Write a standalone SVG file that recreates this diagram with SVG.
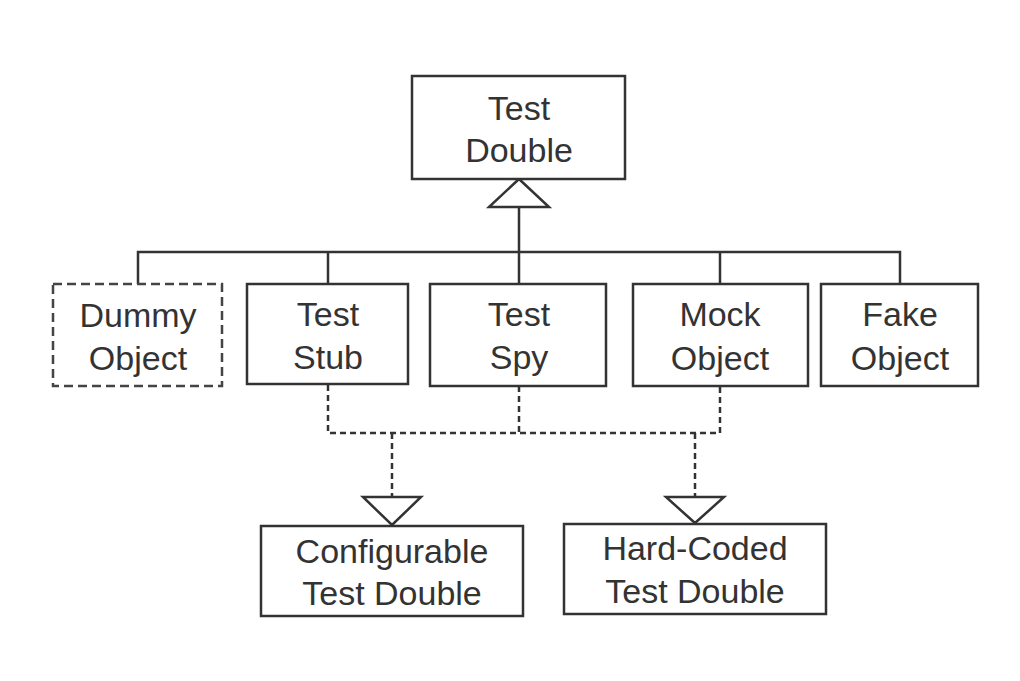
<svg xmlns="http://www.w3.org/2000/svg" width="1020" height="681" viewBox="0 0 1020 681">
<style>
.box{fill:#fff;stroke:#333;stroke-width:2.5}
.dbox{fill:#fff;stroke:#444;stroke-width:2.5;stroke-dasharray:9 5}
.ln{fill:none;stroke:#333;stroke-width:2.5}
.dl{fill:none;stroke:#333;stroke-width:2.5;stroke-dasharray:6 4}
.tri{fill:#fff;stroke:#333;stroke-width:2.5;stroke-linejoin:miter}
text{font-family:"Liberation Sans",Arial,sans-serif;font-size:34px;fill:#333;text-anchor:middle}
</style>
<rect width="1020" height="681" fill="#fff"/>
<g id="connectors">
<path class="ln" d="M519 206 V252 M138 284 V252 H900 V284 M328 252 V284 M519 252 V284 M720 252 V284"/>
<polygon class="tri" points="519,179 549,207 489,207"/>
<path class="dl" d="M328 385 V433 H720 V386 M519 386 V433 M392 433 V497 M695 433 V497"/>
<polygon class="tri" points="363,497 421,497 392,525"/>
<polygon class="tri" points="666,497 724,497 695,523"/>
</g>
<g id="test-double">
<rect class="box" x="412" y="76" width="213" height="103"/>
<text x="519" y="120">Test</text>
<text x="519" y="162">Double</text>
</g>
<g id="dummy-object">
<rect class="dbox" x="53" y="284" width="169" height="102"/>
<text x="138" y="327">Dummy</text>
<text x="138" y="370">Object</text>
</g>
<g id="test-stub">
<rect class="box" x="247" y="284" width="161" height="100"/>
<text x="328" y="326">Test</text>
<text x="328" y="369">Stub</text>
</g>
<g id="test-spy">
<rect class="box" x="430" y="284" width="176" height="102"/>
<text x="519" y="326">Test</text>
<text x="519" y="369">Spy</text>
</g>
<g id="mock-object">
<rect class="box" x="633" y="284" width="175" height="102"/>
<text x="720" y="326">Mock</text>
<text x="720" y="370">Object</text>
</g>
<g id="fake-object">
<rect class="box" x="821" y="284" width="157" height="102"/>
<text x="900" y="326">Fake</text>
<text x="900" y="370">Object</text>
</g>
<g id="configurable-test-double">
<rect class="box" x="261" y="526" width="262" height="90"/>
<text x="392" y="563">Configurable</text>
<text x="392" y="605">Test Double</text>
</g>
<g id="hard-coded-test-double">
<rect class="box" x="564" y="524" width="262" height="90"/>
<text x="695" y="560">Hard-Coded</text>
<text x="695" y="603">Test Double</text>
</g>
</svg>
